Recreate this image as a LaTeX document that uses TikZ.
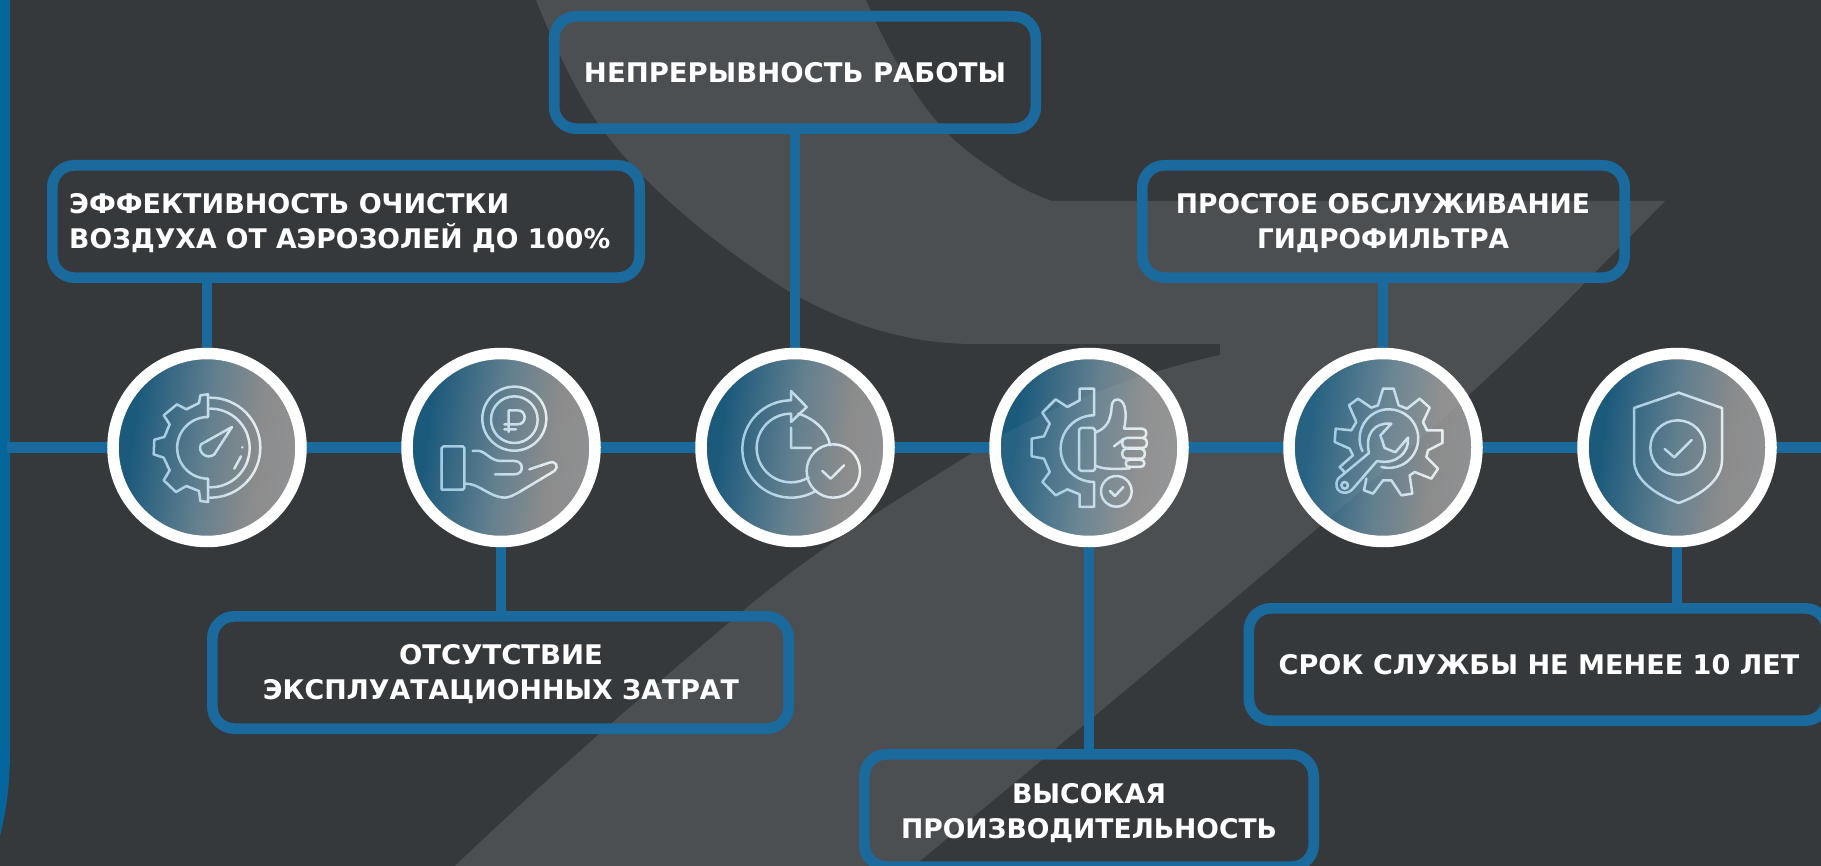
\documentclass[tikz,border=0pt]{standalone}
\usepackage{fontspec}
\usepackage{graphicx}
\setmainfont{DejaVu Sans}
\definecolor{bgdark}{HTML}{36393C}
\definecolor{bglight}{HTML}{4B4F52}
\definecolor{barblue}{HTML}{04669D}
\definecolor{lineblue}{HTML}{1A6A9E}
\definecolor{iconL}{HTML}{96C4DE}
\definecolor{iconR}{HTML}{EEF1F3}
\definecolor{gradA}{HTML}{1C5A7C}
\definecolor{gradB}{HTML}{64808F}
\definecolor{gradC}{HTML}{8C8C8C}
\definecolor{gradD}{HTML}{8F9193}
\pgfdeclarelayer{backlayer}
\pgfdeclarelayer{connlayer}
\pgfsetlayers{backlayer,connlayer,main}
\pgfdeclarehorizontalshading{discgrad}{100bp}{
  color(0bp)=(gradA);
  color(30bp)=(gradA);
  color(50bp)=(gradB);
  color(64bp)=(gradC);
  color(75bp)=(gradD);
  color(100bp)=(gradD)}
\tikzset{
  disc/.style={circle,draw=white,line width=11.5pt,minimum size=188pt,inner sep=0pt,shade,shading=discgrad,shading angle=-8},
  boxn/.style={draw=lineblue,line width=10.7pt,rounded corners=22pt,minimum height=112.3pt,inner sep=0pt},
  conn/.style={draw=lineblue,line width=10.7pt,shorten >=-2pt,shorten <=-2pt},
  caption/.style={text=white,inner sep=0pt,font=\fontsize{27}{35}\selectfont\bfseries},
  iconline/.style={line width=2.5pt,line join=round,line cap=round}
}
\newcommand\fitw[2]{\resizebox{#1pt}{\height}{#2\vphantom{ДФ}}}
\newcommand\bgshape{(536,0) .. controls (558,55) and (582,103) .. (605,133) .. controls (650,192) and (725,252) .. (790,292) .. controls (840,320) and (900,344) .. (975,344) -- (1220,344) -- (1220,355) .. controls (1130,375) and (1040,410) .. (972,453) .. controls (900,498) and (830,540) .. (756,600) .. controls (690,655) and (560,765) .. (455,866) -- (914,866) .. controls (1000,795) and (1120,695) .. (1233,600) .. controls (1345,505) and (1480,390) .. (1568,300) -- (1665,201) -- (1052,201) .. controls (1030,193) and (1010,183) .. (997,172) .. controls (975,158) and (960,146) .. (947,133) .. controls (915,100) and (885,45) .. (866,0) -- cycle}
% icon painter: #1,#2 = centre, #3 = path, in 3x zoom coordinates
\newcommand\iconat[3]{%
  \foreach \k in {0,...,7}{%
    \pgfmathtruncatemacro\mixp{100-\k*100/7}%
    \colorlet{icurrent}{iconL!\mixp!iconR}%
    \begin{scope}[shift={(#1-80,#2-80.5)},x=1pt/3,y=-1pt/3]
      \clip ({60*\k-1},-10) rectangle ({60*\k+61},500);
      \draw[iconline,icurrent] #3;
    \end{scope}}}
\newcommand\tintdisc[1]{\begin{scope}\clip (#1) circle[radius=89.5]; \fill[white,opacity=.05] \bgshape; \end{scope}}
\begin{document}
\begin{tikzpicture}[x=1pt,y=-1pt]
\useasboundingbox (0,0) rectangle (1821,866);
\clip (0,0) rectangle (1821,866);
\begin{pgfonlayer}{backlayer}
  \fill[bgdark] (0,0) rectangle (1821,866);
  \fill[bglight] \bgshape;
  \fill[barblue] (0,0) -- (10,0) -- (10,750) .. controls (10,790) and (5,815) .. (0,836) -- cycle;
\end{pgfonlayer}
\coordinate (leftend) at (9,447.5);
\coordinate (rightend) at (1825,447.5);
\node[disc] (c1) at (207,447.5) {};
\node[disc] (c2) at (501,447.5) {};
\node[disc] (c3) at (795,447.5) {};
\node[disc] (c4) at (1089,447.5) {};
\node[disc] (c5) at (1383,447.5) {};
\node[disc] (c6) at (1677,447.5) {};
\tintdisc{c3}\tintdisc{c4}\tintdisc{c5}
\node[boxn,minimum width=587.3pt] (b1) at (346,221.5) {};
\node[boxn,minimum width=576.3pt] (b2) at (500.5,672.5) {};
\node[boxn,minimum width=481.7pt] (b3) at (795,72.5) {};
\node[boxn,minimum width=449.3pt] (b4) at (1089,810.5) {};
\node[boxn,minimum width=482.3pt] (b5) at (1383.5,221.5) {};
\node[boxn,minimum width=578.3pt] (b6) at (1538,664.5) {};
\node[caption,align=left,anchor=west] (t1) at (69,223) {\fitw{440}{ЭФФЕКТИВНОСТЬ ОЧИСТКИ}\\\fitw{541}{ВОЗДУХА ОТ АЭРОЗОЛЕЙ ДО 100\%}};
\node[caption,align=center] (t2) at (501,674.5) {\fitw{204}{ОТСУТСТВИЕ}\\\fitw{476}{ЭКСПЛУАТАЦИОННЫХ ЗАТРАТ}};
\node[caption,align=center] (t3) at (795,75) {\fitw{422}{НЕПРЕРЫВНОСТЬ РАБОТЫ}};
\node[caption,align=center] (t4) at (1089,813) {\fitw{154}{ВЫСОКАЯ}\\\fitw{376}{ПРОИЗВОДИТЕЛЬНОСТЬ}};
\node[caption,align=center] (t5) at (1383,223) {\fitw{414}{ПРОСТОЕ ОБСЛУЖИВАНИЕ}\\\fitw{252}{ГИДРОФИЛЬТРА}};
\node[caption,align=center] (t6) at (1539,666.5) {\fitw{520.5}{СРОК СЛУЖБЫ НЕ МЕНЕЕ 10 ЛЕТ}};
\begin{pgfonlayer}{connlayer}
  \draw[conn] (leftend) -- (c1);
  \draw[conn] (c1) -- (c2);
  \draw[conn] (c2) -- (c3);
  \draw[conn] (c3) -- (c4);
  \draw[conn] (c4) -- (c5);
  \draw[conn] (c5) -- (c6);
  \draw[conn] (c6) -- (rightend);
  \draw[conn] (c1.north) -- (c1.north |- b1.south);
  \draw[conn] (c2.south) -- (c2.south |- b2.north);
  \draw[conn] (c3.north) -- (c3.north |- b3.south);
  \draw[conn] (c4.south) -- (c4.south |- b4.north);
  \draw[conn] (c5.north) -- (c5.north |- b5.south);
  \draw[conn] (c6.south) -- (c6.south |- b6.north);
\end{pgfonlayer}
% icon 1: gauge and half gear
\iconat{207}{447.5}{(243,150) -- (243,82) -- (220,85) -- (216,108) -- (178,127) -- (150,112) -- (110,145) -- (128,172) -- (112,210) -- (82,218) -- (80,262) -- (110,272) -- (128,310) -- (110,340) -- (147,375) -- (178,357) -- (216,372) -- (220,402) -- (243,405) -- (243,335) arc[start angle=90,end angle=270,radius=92.5]
 (250,92) arc[start angle=-90,end angle=90,radius=150]
 (250,125) arc[start angle=-90,end angle=90,radius=118]
 (315,180) -- (262,262) .. controls (240,280) and (210,255) .. (222,232) -- cycle
 (346,241) -- (346,241.1)
 (342,268) -- (322,305)}
% icon 2: hand and rouble coin
\iconat{501}{447.5}{(280,155) circle[radius=96] (280,158) circle[radius=70]
 (263,195) -- (263,130) -- (290,130) .. controls (318,130) and (318,172) .. (290,172) -- (250,172) (250,187) -- (285,187)
 (68,238) -- (125,238) -- (130,243) -- (130,363) -- (125,368) -- (62,368) -- (62,243) -- cycle
 (155,252) -- (175,252) .. controls (195,255) and (210,282) .. (240,282) -- (280,282) .. controls (310,282) and (310,322) .. (280,322) -- (222,322)
 (135,350) .. controls (175,350) and (205,390) .. (250,392) .. controls (265,392) and (275,385) .. (290,378) -- (400,312) .. controls (415,300) and (405,280) .. (385,287) -- (325,307)}
% icon 3: clock with arrow and check
\iconat{795}{447.5}{(228,100) arc[start angle=270,end angle=59,radius=146]
 (228,100) -- (228,72) -- (275,120) -- (228,165) -- (228,140) arc[start angle=270,end angle=59,radius=103]
 (250,140) .. controls (300,155) and (340,195) .. (345,235)
 (228,182) -- (228,243) -- (288,243)
 (355,312) circle[radius=80]
 (322,312) -- (347,335) -- (387,295)}
% icon 4: half gear and thumb up
\iconat{1089}{447.5}{(255,145) -- (255,65) -- (212,65) -- (212,100) -- (175,120) -- (140,97) -- (100,137) -- (122,170) -- (105,208) -- (68,215) -- (68,268) -- (105,275) -- (122,315) -- (100,345) -- (140,385) -- (175,367) -- (212,382) -- (212,420) -- (255,420) -- (255,345) arc[start angle=90,end angle=270,radius=100]
 (216,183) -- (252,183) -- (258,189) -- (258,306) -- (252,312) -- (216,312) -- (210,306) -- (210,189) -- cycle
 (258,197) .. controls (290,185) and (305,165) .. (308,120) .. controls (308,90) and (340,90) .. (347,120) .. controls (352,140) and (350,165) .. (345,185)
 (345,185) -- (400,185) .. controls (416,185) and (416,213) .. (400,213) -- (352,213) .. controls (335,213) and (335,243) .. (352,243) -- (402,243) .. controls (418,243) and (418,213) .. (402,213)
 (352,245) .. controls (335,245) and (335,275) .. (352,275) -- (396,275) .. controls (412,275) and (412,245) .. (396,245) -- cycle
 (362,278) .. controls (346,278) and (346,300) .. (362,300) -- (394,300) .. controls (410,300) and (410,278) .. (394,278) -- cycle
 (258,296) .. controls (280,305) and (300,308) .. (362,304)
 (345,215) -- (315,238)
 (322,373) circle[radius=46]
 (303,372) -- (318,387) -- (343,360)}
% icon 5: gear and wrench
\iconat{1383}{447.5}{(125,315) -- (110,300) -- (150,265) -- (140,245) -- (95,225) -- (98,185) -- (145,190) -- (160,165) -- (138,115) -- (165,95) -- (205,122) -- (225,115) -- (240,65) -- (272,65) -- (287,115) -- (312,125) -- (350,95) -- (380,122) -- (360,165) -- (372,190) -- (418,190) -- (418,228) -- (375,250) -- (370,270) -- (405,305) -- (385,335) -- (335,315) -- (320,325) -- (328,380) -- (295,385) -- (265,340) -- (240,340) -- (210,380) -- (183,370) -- (190,335)
 (105,335) -- (198,258) .. controls (185,200) and (215,165) .. (265,170) -- (232,205) -- (245,243) -- (277,256) -- (315,212) .. controls (320,255) and (280,295) .. (222,282) -- (150,365) .. controls (130,390) and (85,375) .. (105,335) -- cycle
 (178,252) arc[start angle=155,end angle=465,radius=88]
 (125,355) circle[radius=10]}
% icon 6: shield
\iconat{1677}{447.5}{(245,77) -- (375,123) -- (375,279) .. controls (375,340) and (310,385) .. (245,408) .. controls (180,385) and (111,340) .. (111,279) -- (111,123) -- cycle
 (242,242) circle[radius=82]
 (203,246) -- (232,271) -- (284,219)}
\end{tikzpicture}
\end{document}
